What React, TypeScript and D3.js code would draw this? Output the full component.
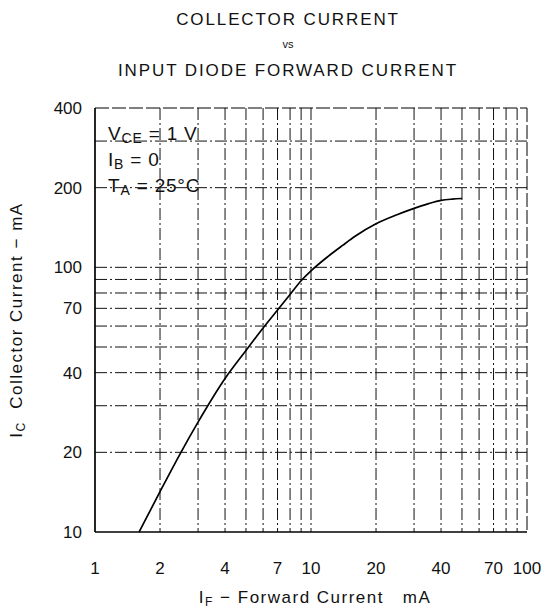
import React from "react";
import * as d3 from "d3";

// curve (IF in mA, IC in mA)
const forwardCurrent = [1.6, 2, 2.5, 3, 4, 5, 6, 7, 8, 9, 10, 12, 14, 16, 20, 25, 30, 35, 40, 45, 50];
const collectorCurrent = [10, 14.2, 20, 26, 38, 48.5, 59, 69, 79, 89, 97, 110, 121, 131, 146, 158, 167, 174, 179, 181, 182];

const xTickLabels = [1, 2, 4, 7, 10, 20, 40, 70, 100];
const yTickLabels = [10, 20, 40, 70, 100, 200, 400];
const xGrid = [2, 3, 4, 5, 6, 7, 8, 9, 10, 20, 30, 40, 50, 60, 70, 80, 90];
const yGrid = [20, 30, 40, 50, 60, 70, 80, 90, 100, 200, 300];

const width = 549;
const height = 609;
const margin = { top: 108, right: 22, bottom: 77, left: 95 };
const font = "'Liberation Sans', Arial, sans-serif";
const nb = "\u00a0";

export default function App() {
  const x = d3
    .scaleLog()
    .domain([1, 100])
    .range([margin.left, width - margin.right]);
  const y = d3
    .scaleLog()
    .domain([10, 400])
    .range([height - margin.bottom, margin.top]);

  const x0 = x(1), x1 = x(100), y0 = y(10), y1 = y(400);

  const line = d3
    .line<number>()
    .x((d) => x(forwardCurrent[d]))
    .y((d) => y(collectorCurrent[d]))
    .curve(d3.curveMonotoneX);
  const path = line(forwardCurrent.map((_, i) => i)) || "";

  return (
    <svg
      width={width}
      height={height}
      style={{ position: "absolute", left: 0, top: 0, background: "#fff" }}
      fontFamily={font}
    >
      {/* title */}
      <g textAnchor="middle" fill="#111">
        <text x={288} y={25} fontSize={17} letterSpacing={1.9}>COLLECTOR CURRENT</text>
        <text x={288} y={48} fontSize={11}>vs</text>
        <text x={288} y={76} fontSize={17} letterSpacing={1.9}>INPUT DIODE FORWARD CURRENT</text>
      </g>

      {/* grid */}
      <g stroke="#111" strokeWidth={1} strokeDasharray="12 3 2 3">
        {xGrid.map((v) => (
          <line key={"gx" + v} x1={x(v)} x2={x(v)} y1={y1} y2={y0} />
        ))}
        {yGrid.map((v) => (
          <line key={"gy" + v} x1={x0} x2={x1} y1={y(v)} y2={y(v)} />
        ))}
      </g>

      {/* frame */}
      <g stroke="#000" fill="none">
        <line x1={x0} x2={x0} y1={y1} y2={y0} strokeWidth={1.7} />
        <line x1={x0} x2={x1} y1={y0} y2={y0} strokeWidth={1.5} />
        <line x1={x0} x2={x1} y1={y1} y2={y1} strokeWidth={1} strokeDasharray="14 3" />
        <line x1={x1} x2={x1} y1={y1} y2={y0} strokeWidth={1} strokeDasharray="14 3" />
      </g>

      {/* curve */}
      <path d={path} fill="none" stroke="#000" strokeWidth={1.7} />

      {/* conditions */}
      <g fill="#111" fontSize={19} letterSpacing={0.8}>
        <text x={108} y={140}>
          V<tspan fontSize={14} dy={3}>CE</tspan>
          <tspan dy={-3}>{nb}={nb}1{nb}V</tspan>
        </text>
        <text x={108} y={166}>
          I<tspan fontSize={14} dy={3}>B</tspan>
          <tspan dy={-3}>{nb}={nb}0</tspan>
        </text>
        <text x={108} y={192}>
          T<tspan fontSize={14} dy={3}>A</tspan>
          <tspan dy={-3}>{nb}={nb}25°C</tspan>
        </text>
      </g>

      {/* y tick labels */}
      <g fill="#111" fontSize={17} textAnchor="end">
        {yTickLabels.map((v) => (
          <text key={"yl" + v} x={82} y={y(v) + 6}>{v}</text>
        ))}
      </g>

      {/* x tick labels */}
      <g fill="#111" fontSize={17} textAnchor="middle">
        {xTickLabels.map((v) => (
          <text key={"xl" + v} x={x(v)} y={574}>{v}</text>
        ))}
      </g>

      {/* axis titles */}
      <text x={315} y={603} textAnchor="middle" fontSize={17} letterSpacing={1.5} fill="#111">
        I<tspan fontSize={12} dy={3}>F</tspan>
        <tspan dy={-3}>{nb}−{nb}Forward Current{nb}{nb}{nb}mA</tspan>
      </text>
      <text
        transform={`translate(22, ${(y0 + y1) / 2}) rotate(-90)`}
        textAnchor="middle"
        fontSize={17}
        letterSpacing={1.5}
        fill="#111"
      >
        I<tspan fontSize={12} dy={3}>C</tspan>
        <tspan dy={-3}>{nb}{nb}Collector Current{nb}−{nb}mA</tspan>
      </text>
    </svg>
  );
}
